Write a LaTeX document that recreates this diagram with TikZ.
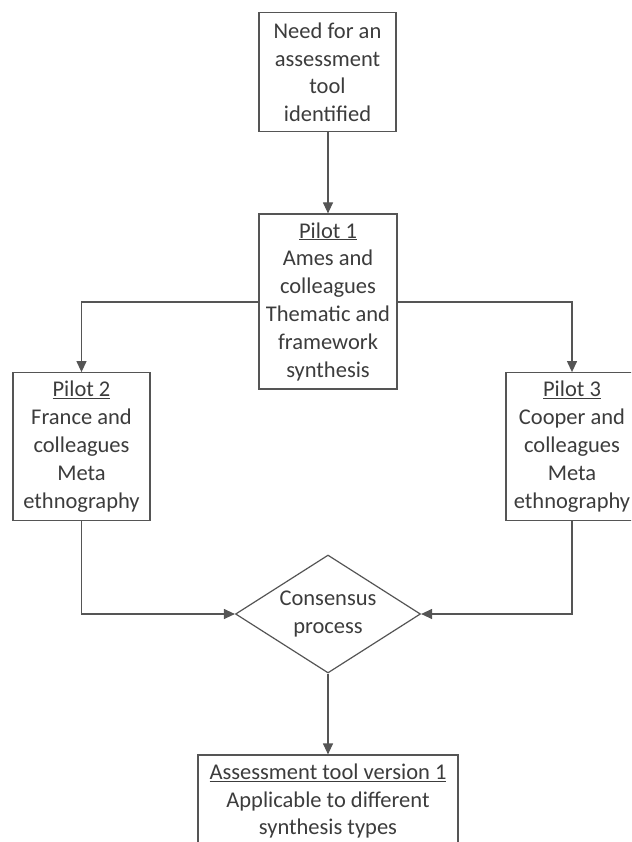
\documentclass[tikz,border=0pt]{standalone}
\usepackage{fontspec}
\setmainfont{Carlito}
\usepackage{tikz}
\usetikzlibrary{shapes.geometric,arrows.meta}

\definecolor{boxline}{HTML}{555555}
\definecolor{boxtext}{HTML}{3C3C3C}

\begin{document}
\begin{tikzpicture}[x=1pt,y=-1pt,
    every node/.style={text=boxtext,font=\fontsize{22.5}{27.8}\selectfont,align=center},
    stagebox/.style={draw=boxline,line width=1.2pt,fill=white,inner sep=0pt},
    decide/.style={draw=boxline,line width=1.2pt,diamond,aspect=1.57,inner sep=0pt,
      minimum width=185pt,minimum height=118pt},
    link/.style={draw=boxline,line width=1.2pt,-{Triangle[length=11pt,width=10pt]}}]
  \useasboundingbox (0,0) rectangle (631,842);
  \clip (0,0) rectangle (631,842);

  % boxes
  \node[stagebox,minimum width=137pt,minimum height=119pt] (need) at (327.5,72.2)
    {Need for an\\assessment\\tool\\identified};
  \node[stagebox,minimum width=138pt,minimum height=175pt] (pilot1) at (328,301.5)
    {\underline{Pilot 1}\\Ames and\\colleagues\\Thematic and\\framework\\synthesis};
  \node[stagebox,minimum width=137pt,minimum height=148pt] (pilot2) at (81.5,446.7)
    {\underline{Pilot 2}\\France and\\colleagues\\Meta\\ethnography};
  \node[stagebox,minimum width=132pt,minimum height=148pt] (pilot3) at (572,446.7)
    {\underline{Pilot 3}\\Cooper and\\colleagues\\Meta\\ethnography};
  \node[decide] (consensus) at (328,614) {Consensus\\process};
  \node[stagebox,minimum width=260pt,minimum height=92pt] (tool) at (328,801)
    {\underline{Assessment tool version 1}\\Applicable to different\\synthesis types};

  % connectors
  \coordinate (split) at (328,302);
  \draw[link] (need.south -| pilot1.north) -- (pilot1.north);
  \draw[link] (pilot1.west |- split) -| (pilot2.north);
  \draw[link] (pilot1.east |- split) -| (pilot3.north);
  \draw[link] (pilot2.south) |- (consensus.west);
  \draw[link] (pilot3.south) |- (consensus.east);
  \draw[link] (consensus.south) -- (tool.north);
\end{tikzpicture}
\end{document}
